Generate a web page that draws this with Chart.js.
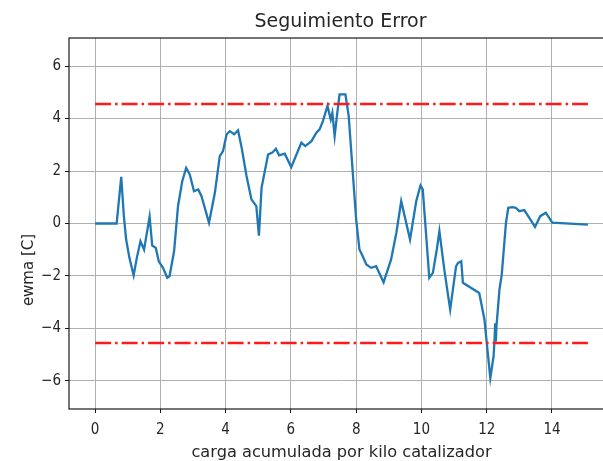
<!DOCTYPE html>
<html>
<head>
<meta charset="utf-8">
<script src="https://cdn.jsdelivr.net/npm/chart.js@4/dist/chart.umd.min.js"></script>
<style>
html,body{margin:0;padding:0;overflow:hidden;background:#fff;}
canvas{display:block;}
</style>
</head>
<body>
<canvas id="c" width="616" height="461"></canvas>
<script>
// ---- data ----
const cargaX = [
  0, 0.66, 0.80, 0.88, 0.95, 1.05, 1.18, 1.28, 1.39, 1.50,
  1.67, 1.75, 1.86, 1.95, 2.08, 2.21, 2.28, 2.42, 2.54, 2.67,
  2.79, 2.90, 3.03, 3.16, 3.26, 3.49, 3.67, 3.82, 3.92, 4.03,
  4.13, 4.26, 4.38, 4.49, 4.64, 4.79, 4.94, 5.02, 5.10, 5.30,
  5.43, 5.54, 5.64, 5.81, 6.01, 6.17, 6.32, 6.44, 6.63, 6.78,
  6.88, 6.98, 7.12, 7.22, 7.27, 7.34, 7.41, 7.49, 7.67, 7.77,
  8.00, 8.10, 8.20, 8.31, 8.46, 8.61, 8.84, 9.07, 9.23, 9.38,
  9.65, 9.84, 9.97, 10.04, 10.24, 10.35, 10.47, 10.55, 10.70, 10.88,
  11.06, 11.12, 11.22, 11.27, 11.77, 11.93, 12.11, 12.21, 12.24, 12.26,
  12.28, 12.30, 12.39, 12.46, 12.59, 12.66, 12.79, 12.89, 13.00, 13.15,
  13.30, 13.48, 13.64, 13.81, 14.01, 15.10
];
const ewmaY = [
  0, 0, 1.78, 0.3, -0.6, -1.3, -1.98, -1.3, -0.68, -1.0,
  0.26, -0.84, -0.93, -1.44, -1.69, -2.07, -2.01, -1.06, 0.66, 1.61,
  2.12, 1.87, 1.23, 1.30, 1.04, 0.03, 1.17, 2.57, 2.76, 3.40,
  3.52, 3.40, 3.55, 2.89, 1.81, 0.92, 0.66, -0.46, 1.36, 2.63,
  2.70, 2.85, 2.60, 2.66, 2.15, 2.63, 3.08, 2.95, 3.14, 3.46,
  3.59, 3.90, 4.48, 3.97, 4.22, 3.33, 4.10, 4.92, 4.92, 4.10,
  0.15, -0.99, -1.25, -1.56, -1.69, -1.63, -2.24, -1.37, -0.36, 0.85,
  -0.61, 0.85, 1.45, 1.30, -2.07, -1.88, -0.99, -0.29, -1.76, -3.28,
  -1.63, -1.50, -1.44, -2.26, -2.65, -3.66, -5.89, -5.06, -4.4, -3.8,
  -4.5, -3.9, -2.52, -1.95, 0.03, 0.6, 0.62, 0.6, 0.47, 0.51,
  0.22, -0.13, 0.28, 0.41, 0.03, -0.04
];
const limitX = [0, 15.10];
const limitUpper = [4.55, 4.55];
const limitLower = [-4.55, -4.55];
const xTickValues = [0, 2, 4, 6, 8, 10, 12, 14];
const yTickValues = [-6, -4, -2, 0, 2, 4, 6];
const titleText = 'Seguimiento Error';
const xLabel = 'carga acumulada por kilo catalizador';
const yLabel = 'ewma [C]';

// ---- build ----
const pts = (xs, ys) => xs.map((x, i) => ({x: x, y: ys[i]}));
const FONT = "'DejaVu Sans', sans-serif";
const TICKFONT = "'DejaVu Sans Condensed', 'DejaVu Sans', sans-serif";
const TXT = '#262626';
const fmt = v => (v < 0 ? '\u2212' + Math.abs(v) : String(v));

// spines, title and axis labels placed like the matplotlib original
const decor = {
  id: 'decor',
  afterDatasetsDraw(chart) {
    const {ctx, chartArea: a} = chart;
    const cx = (a.left + a.right) / 2;
    ctx.save();
    ctx.strokeStyle = '#1a1a1a';
    ctx.lineWidth = 1.2;
    ctx.strokeRect(a.left, a.top, a.right - a.left, a.bottom - a.top);
    ctx.fillStyle = TXT;
    ctx.textAlign = 'center';
    ctx.textBaseline = 'alphabetic';
    ctx.font = "19px " + FONT;
    ctx.fillText(titleText, cx - 1, 27);
    ctx.font = "16.2px " + FONT;
    ctx.fillText(xLabel, cx, 457);
    ctx.translate(33, 270);
    ctx.rotate(-Math.PI / 2);
    ctx.font = "15px " + FONT;
    ctx.fillText(yLabel, 0, 0);
    ctx.restore();
  }
};

new Chart(document.getElementById('c'), {
  type: 'scatter',
  data: {
    datasets: [
      {
        data: pts(cargaX, ewmaY),
        showLine: true,
        borderColor: '#1f77b4',
        borderWidth: 2.3,
        pointRadius: 0,
        tension: 0,
        order: 2
      },
      {
        data: pts(limitX, limitUpper),
        showLine: true,
        borderColor: '#ff1a1a',
        borderWidth: 2.5,
        borderDash: [16, 4, 2.5, 4],
        pointRadius: 0,
        order: 1
      },
      {
        data: pts(limitX, limitLower),
        showLine: true,
        borderColor: '#ff1a1a',
        borderWidth: 2.5,
        borderDash: [16, 4, 2.5, 4],
        pointRadius: 0,
        order: 1
      }
    ]
  },
  options: {
    responsive: false,
    animation: false,
    devicePixelRatio: 1,
    layout: {padding: {left: 0, right: 2, top: 38, bottom: 0}},
    plugins: {
      legend: {display: false},
      tooltip: {enabled: false},
      title: {display: false}
    },
    scales: {
      x: {
        type: 'linear',
        min: -0.8,
        max: 15.9,
        afterBuildTicks: s => { s.ticks = xTickValues.map(v => ({value: v})); },
        afterFit: s => { s.height = 52; },
        ticks: {
          color: TXT,
          font: {family: TICKFONT, size: 15},
          padding: 8,
          callback: v => fmt(v),
          maxRotation: 0
        },
        grid: {color: '#b0b0b0', lineWidth: 1, tickLength: 4, tickColor: '#1a1a1a'},
        border: {display: false},
        title: {display: false}
      },
      y: {
        type: 'linear',
        min: -7.07,
        max: 7.07,
        afterBuildTicks: s => { s.ticks = yTickValues.map(v => ({value: v})); },
        afterFit: s => { s.width = 69; },
        ticks: {
          color: TXT,
          font: {family: TICKFONT, size: 15},
          padding: 4,
          callback: v => fmt(v)
        },
        grid: {color: '#b0b0b0', lineWidth: 1, tickLength: 4, tickColor: '#1a1a1a'},
        border: {display: false},
        title: {display: false}
      }
    }
  },
  plugins: [decor]
});
</script>
</body>
</html>
